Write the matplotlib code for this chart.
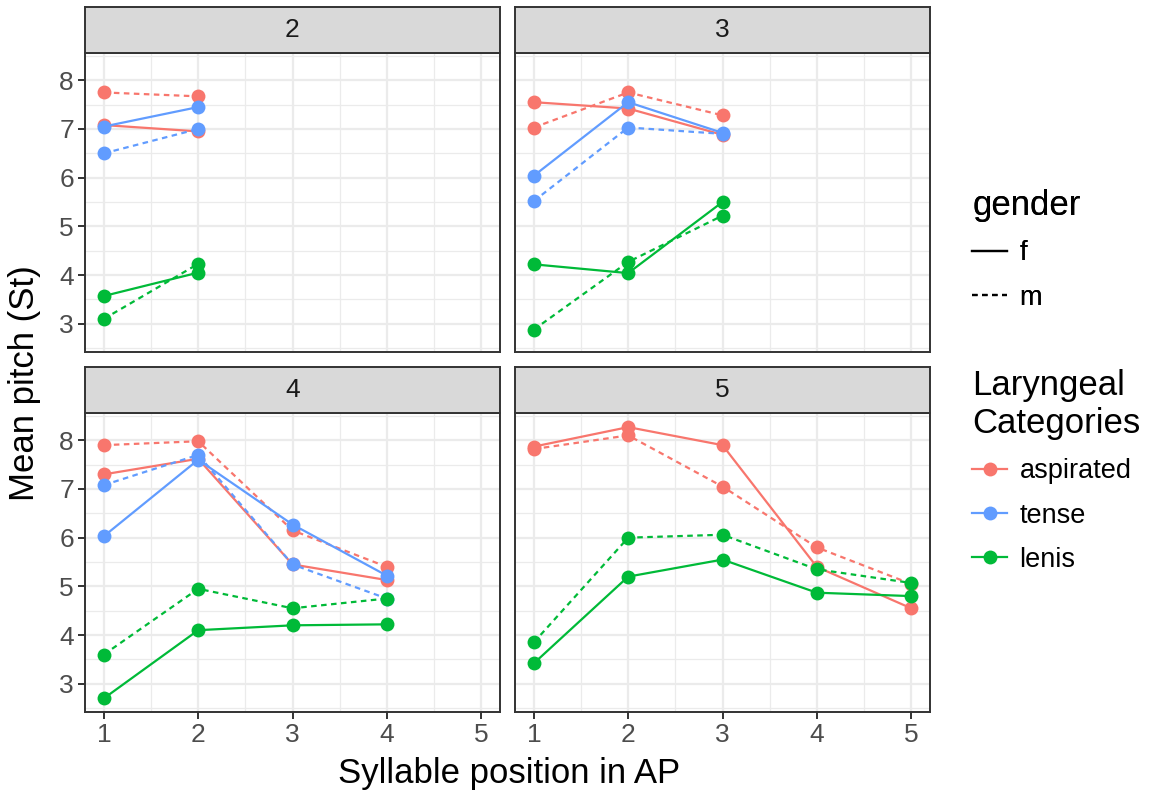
import matplotlib
matplotlib.use("Agg")
import matplotlib.pyplot as plt
from matplotlib.lines import Line2D
import numpy as np

plt.rcParams['font.family'] = ['Liberation Sans', 'DejaVu Sans']

panels = ["2", "3", "4", "5"]
categories = ["aspirated", "tense", "lenis"]
genders = ["f", "m"]
colors = {"aspirated": "#F8766D", "tense": "#619CFF", "lenis": "#00BA38"}
styles = {"f": "-", "m": (0, (2.5, 2.0))}

# values[panel][category][gender] -> list of mean pitch by syllable position 1..n
values = {
    "2": {
        "aspirated": {"f": [7.08, 6.95], "m": [7.75, 7.67]},
        "tense": {"f": [7.05, 7.45], "m": [6.50, 7.00]},
        "lenis": {"f": [3.57, 4.05], "m": [3.10, 4.23]},
    },
    "3": {
        "aspirated": {"f": [7.55, 7.42, 6.88], "m": [7.03, 7.75, 7.28]},
        "tense": {"f": [6.04, 7.55, 6.92], "m": [5.52, 7.03, 6.90]},
        "lenis": {"f": [4.22, 4.04, 5.50], "m": [2.88, 4.27, 5.22]},
    },
    "4": {
        "aspirated": {"f": [7.30, 7.62, 5.45, 5.13], "m": [7.90, 7.98, 6.15, 5.40]},
        "tense": {"f": [6.03, 7.60, 6.27, 5.22], "m": [7.08, 7.70, 5.45, 4.75]},
        "lenis": {"f": [2.70, 4.10, 4.20, 4.22], "m": [3.60, 4.95, 4.55, 4.75]},
    },
    "5": {
        "aspirated": {"f": [7.87, 8.27, 7.90, 5.40, 4.55], "m": [7.82, 8.10, 7.05, 5.80, 5.05]},
        "lenis": {"f": [3.42, 5.20, 5.55, 4.87, 4.80], "m": [3.85, 6.00, 6.06, 5.35, 5.07]},
    },
}

x_ticks = [1, 2, 3, 4, 5]
y_ticks = [3, 4, 5, 6, 7, 8]

W, H = 1153, 793
fig = plt.figure(figsize=(W / 100, H / 100), dpi=100)

# panel boxes in pixels: (left, top, right, bottom)
boxes = {
    "2": (85, 53, 500, 352),
    "3": (515, 53, 930, 352),
    "4": (85, 413, 500, 712),
    "5": (515, 413, 930, 712),
}
strip_h = 46

def fx(px):
    return px / W

def fy(py):
    return 1 - py / H

grid_col = "#EBEBEB"
LW = 1.6
MS = 10
for p in panels:
    l, t, r, b = boxes[p]
    ax = fig.add_axes([fx(l), fy(b), fx(r) - fx(l), fy(t) - fy(b)])
    ax.set_xlim(0.8, 5.2)
    ax.set_ylim(2.42, 8.56)
    ax.set_xticks(x_ticks)
    ax.set_yticks(y_ticks)
    ax.set_xticks([1.5, 2.5, 3.5, 4.5], minor=True)
    ax.set_yticks([2.5, 3.5, 4.5, 5.5, 6.5, 7.5, 8.5], minor=True)
    ax.grid(True, which="major", color=grid_col, linewidth=1.6)
    ax.grid(True, which="minor", color=grid_col, linewidth=0.9)
    ax.set_axisbelow(True)
    for s in ax.spines.values():
        s.set_color("#333333")
        s.set_linewidth(1.4)
    ax.tick_params(which="minor", length=0)
    ax.tick_params(which="major", length=5, width=1.4, color="#333333",
                   labelsize=19, labelcolor="#4D4D4D", pad=3)
    if p in ("2", "3"):
        ax.tick_params(axis="x", which="major", length=0, labelbottom=False)
    if p in ("3", "5"):
        ax.tick_params(axis="y", which="major", length=0, labelleft=False)
    for cat in categories:
        if cat not in values[p]:
            continue
        for g in genders:
            ys = values[p][cat][g]
            xs = list(range(1, len(ys) + 1))
            ax.plot(xs, ys, color=colors[cat], linestyle=styles[g], linewidth=LW,
                    marker="o", markersize=MS, markeredgewidth=0, zorder=3)
    # strip
    sax = fig.add_axes([fx(l), fy(t), fx(r) - fx(l), fy(t - strip_h) - fy(t)])
    sax.set_facecolor("#D9D9D9")
    sax.set_xticks([])
    sax.set_yticks([])
    for s in sax.spines.values():
        s.set_color("#333333")
        s.set_linewidth(1.4)
    sax.text(0.5, 0.5, p, ha="center", va="center", fontsize=19, color="#1A1A1A",
             transform=sax.transAxes)

fig.text(fx(509), fy(773), "Syllable position in AP", ha="center", va="center",
         fontsize=25, color="black")
fig.text(fx(25), fy(383), "Mean pitch (St)", ha="center", va="center",
         fontsize=25, color="black", rotation=90)

# legends
gender_handles = [Line2D([], [], color="black", linestyle=styles[g], linewidth=LW) for g in genders]
leg1 = fig.legend(gender_handles, genders, title="gender", loc="upper left",
                  bbox_to_anchor=(fx(972), fy(189)), frameon=False, fontsize=19.5,
                  title_fontsize=25, handlelength=1.3, handletextpad=0.45,
                  labelspacing=0.68, alignment="left", borderaxespad=0, borderpad=0)
cat_handles = [Line2D([], [], color=colors[c], linewidth=LW, marker="o",
                      markersize=MS, markeredgewidth=0) for c in categories]
leg2 = fig.legend(cat_handles, categories, title="Laryngeal\nCategories", loc="upper left",
                  bbox_to_anchor=(fx(972), fy(369)), frameon=False, fontsize=19.5,
                  title_fontsize=25, handlelength=1.3, handletextpad=0.45,
                  labelspacing=0.68, alignment="left", borderaxespad=0, borderpad=0)
leg2.get_title().set_linespacing(1.18)
fig.add_artist(leg1)

fig.savefig("out.png", dpi=100)
